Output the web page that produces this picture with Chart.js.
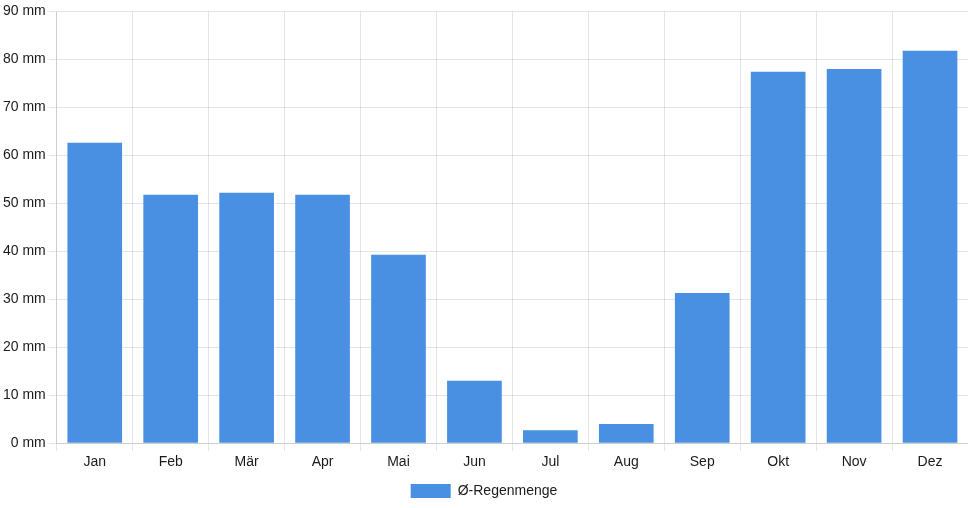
<!DOCTYPE html>
<html>
<head>
<meta charset="utf-8">
<script src="https://cdn.jsdelivr.net/npm/chart.js@4"></script>
<style>
  html, body { margin: 0; padding: 0; background: #fff; }
  #wrap { width: 968px; height: 508px; }
</style>
</head>
<body>
<div id="wrap"><canvas id="rainChart"></canvas></div>
<script>
// Monthly average rainfall
const months = ['Jan', 'Feb', 'Mär', 'Apr', 'Mai', 'Jun', 'Jul', 'Aug', 'Sep', 'Okt', 'Nov', 'Dez'];
const rainfall = [62.6, 51.8, 52.2, 51.8, 39.3, 13.0, 2.7, 4.0, 31.3, 77.4, 78.0, 81.8];
const seriesLabel = 'Ø-Regenmenge';

Chart.defaults.font.family = '"Liberation Sans", Arial, Helvetica, sans-serif';
Chart.defaults.font.size = 14;
Chart.defaults.color = '#1a1a1a';

new Chart(document.getElementById('rainChart').getContext('2d'), {
    type: 'bar',
    data: {
        labels: months,
        datasets: [{
            label: seriesLabel,
            data: rainfall,
            backgroundColor: '#4a90e2',
            borderWidth: 0
        }]
    },
    options: {
        responsive: true,
        maintainAspectRatio: false,
        animation: false,
        layout: { padding: 0 },
        plugins: {
            legend: { position: 'bottom' },
            tooltip: { enabled: false }
        },
        scales: {
            y: {
                min: 0,
                max: 90,
                ticks: { stepSize: 10, callback: v => v + ' mm' }
            },
            x: {}
        }
    }
});
</script>
</body>
</html>
